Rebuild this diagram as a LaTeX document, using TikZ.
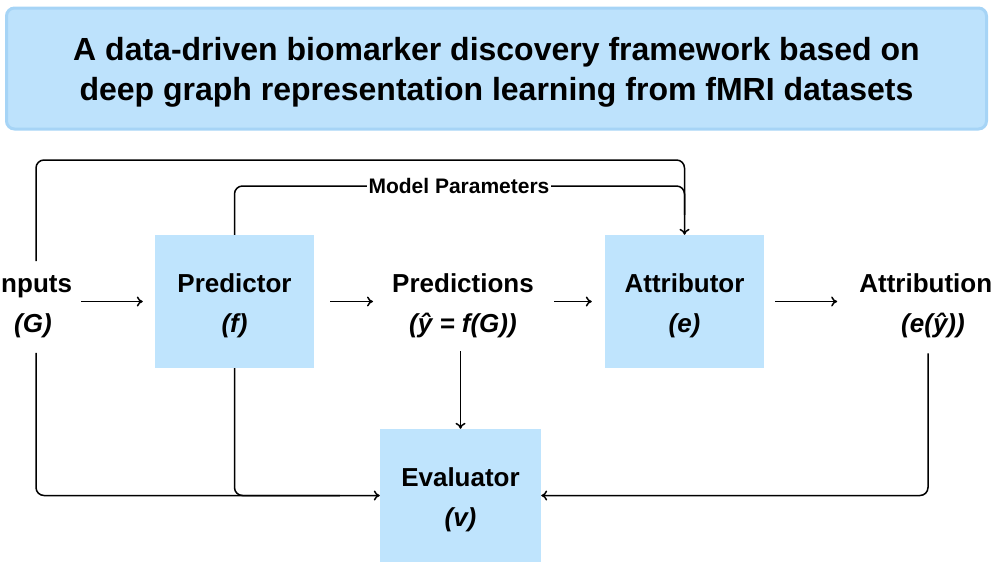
\documentclass[tikz,border=0pt]{standalone}
\usepackage{fontspec}
\setmainfont{Liberation Sans}
\usetikzlibrary{arrows.meta}
\definecolor{boxblue}{HTML}{BFE4FD}
\definecolor{titlefill}{HTML}{BDE2FC}
\definecolor{titleedge}{HTML}{A6D4F6}

\begin{document}
\begin{tikzpicture}[x=1pt,y=-1pt,
  block/.style={fill=boxblue, draw=none, minimum width=159pt, minimum height=133pt, inner sep=0pt},
  lbl/.style={align=center, inner sep=0pt, font=\fontsize{26}{40}\selectfont\bfseries},
  conn/.style={line width=1.5pt, rounded corners=8pt},
  arr/.style={conn, -{To[length=6pt,width=10pt,line width=1.5pt]}}]

% canvas
\useasboundingbox (0,0) rectangle (991,562);

% title banner
\node[fill=titlefill, draw=titleedge, line width=3pt, rounded corners=8pt,
  minimum width=980pt, minimum height=121pt, inner sep=0pt] (title) at (496.5,68.5) {};
\node[align=center, inner sep=0pt, font=\fontsize{32}{40}\selectfont\bfseries]
  (titletext) at (496.5,72.5)
  {A data-driven biomarker discovery framework based on\\
   deep graph representation learning from fMRI datasets};

% processing blocks
\node[block] (Predictor)  at (234.5,301.5) {};
\node[block] (Attributor) at (684.5,301.5) {};
\node[block, minimum width=161pt] (Evaluator) at (460.5,495.5) {};
\node[lbl] (PredictorText)  at (234.5,306) {Predictor\\\textit{(f)}};
\node[lbl] (AttributorText) at (684.5,306) {Attributor\\\textit{(e)}};
\node[lbl] (EvaluatorText)  at (460.5,500) {Evaluator\\\textit{(v)}};

% plain labels
\node[lbl] (Inputs)       at (33,306)  {Inputs\\\textit{(G)}};
\node[lbl] (Predictions)  at (463,306) {Predictions\\\textit{(ŷ = f(G))}};
\node[lbl] (Attributions) at (933,306) {Attributions\\\textit{(e(ŷ))}};
\node[inner xsep=1.5pt, inner ysep=0pt, font=\fontsize{21}{21}\selectfont\bfseries]
  (MP) at (459,186) {Model Parameters};

% forward chain
\draw[arr] ([xshift=9pt]Inputs.east |- Predictor.west) -- ([xshift=-12pt]Predictor.west);
\draw[arr] ([xshift=16pt]Predictor.east) -- ([xshift=-19pt]Predictions.west |- Predictor.east);
\draw[arr] ([xshift=20pt]Predictions.east |- Attributor.west) -- ([xshift=-13pt]Attributor.west);
\draw[arr] ([xshift=11pt]Attributor.east) -- ([xshift=-22pt]Attributions.west |- Attributor.east);

% predictions to evaluator
\draw[arr] (Evaluator.north |- Predictions.south) ++(0,13) -- (Evaluator.north);

% inputs and model parameters to attributor
\draw[arr] ([xshift=3pt,yshift=13pt]Inputs.north) -- ([xshift=3pt]Inputs.north |- 0,160)
  -- (Attributor.north |- 0,160) -- (Attributor.north);
\draw[conn] (Predictor.north) -- (Predictor.north |- MP.west) -- (MP.west);
\draw[conn] (MP.east) -- (Attributor.north |- MP.east) -- ([yshift=20pt]Attributor.north);

% feedback into evaluator
\draw[arr] ([xshift=3pt,yshift=-15pt]Inputs.south) -- ([xshift=3pt]Inputs.south |- Evaluator.west) -- (Evaluator.west);
\draw[conn] (Predictor.south) -- (Predictor.south |- Evaluator.west) -- ([xshift=-40pt]Evaluator.west);
\draw[arr] ([xshift=-5pt,yshift=-15pt]Attributions.south) -- ([xshift=-5pt]Attributions.south |- Evaluator.east) -- (Evaluator.east);
\end{tikzpicture}
\end{document}
